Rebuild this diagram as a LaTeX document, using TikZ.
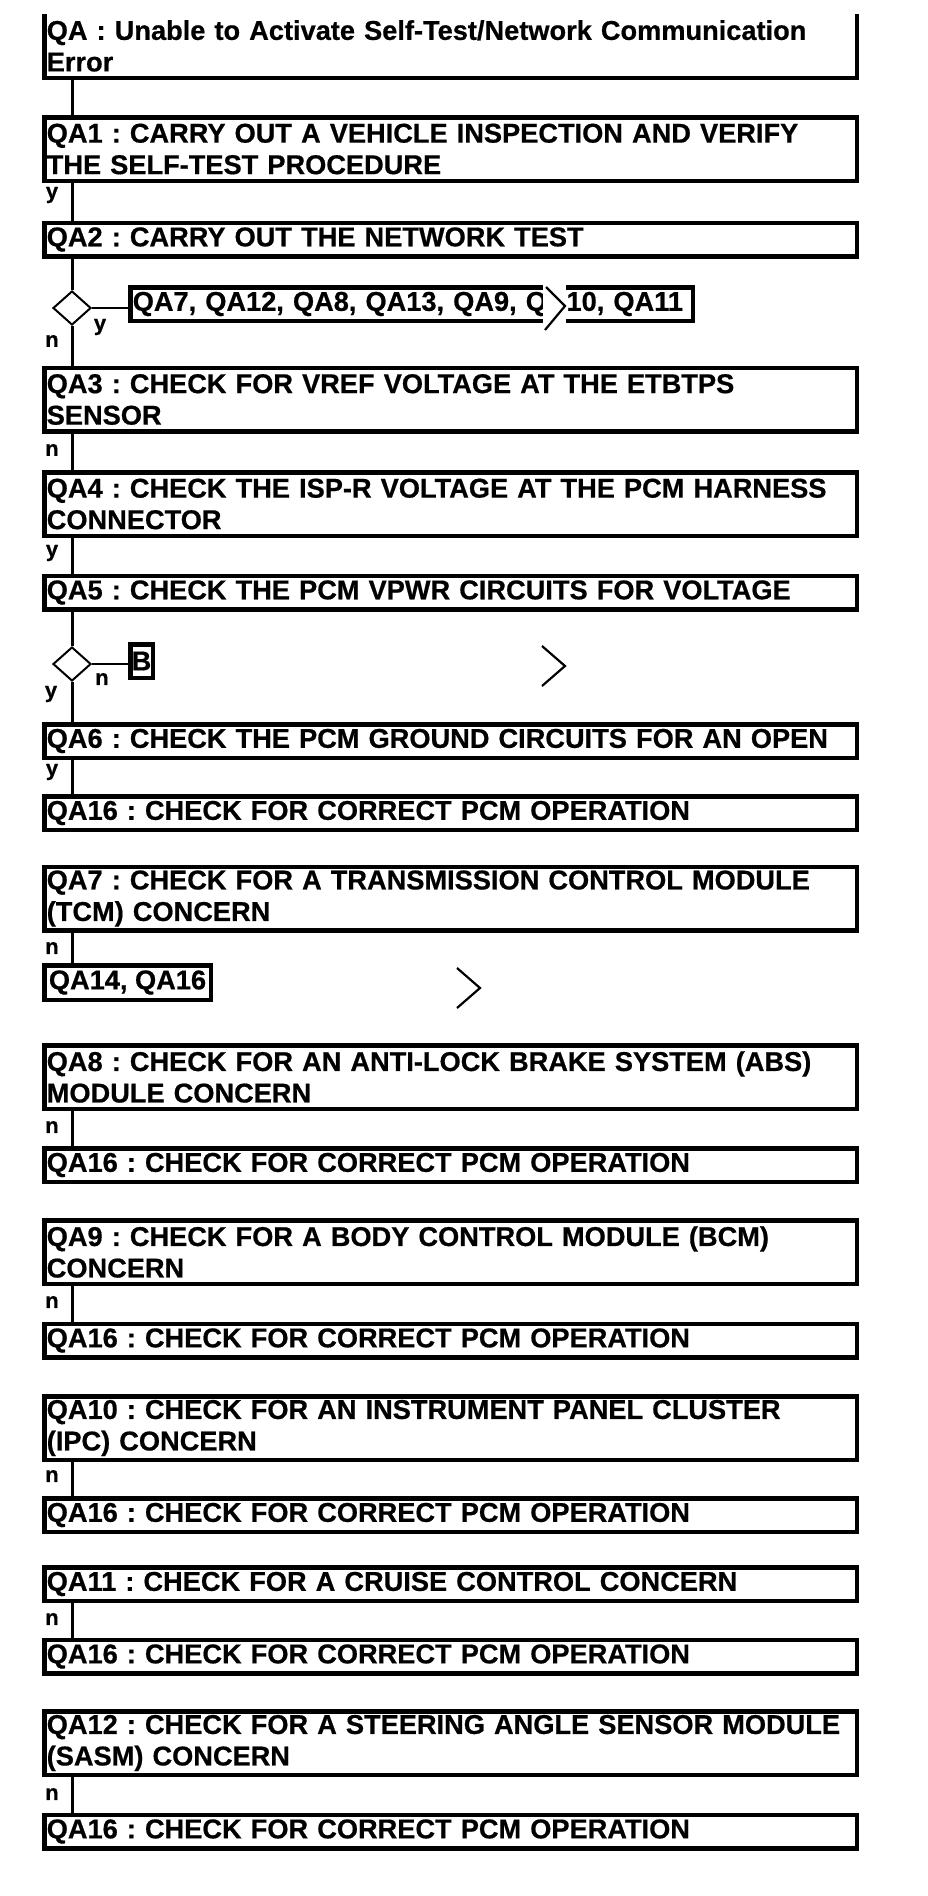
\documentclass[tikz,border=0pt]{standalone}
\usepackage{fontspec}
\setmainfont[BoldFeatures={FakeBold=0.6}]{Liberation Sans}
\usetikzlibrary{shapes.geometric}
\frenchspacing
\hyphenpenalty=10000
\exhyphenpenalty=10000
\begin{document}
\begin{tikzpicture}[x=1pt,y=-1pt,
  txt/.style={font=\bfseries\fontsize{27.2}{31.5}\selectfont\frenchspacing},
  box/.style={txt, draw, line width=4.5pt, rectangle, inner xsep=2.5pt, inner ysep=0pt,
    align=left, text width=807.5pt, minimum width=812.5pt},
  onebox/.style={box, minimum height=33.5pt},
  twobox/.style={box, minimum height=63.5pt},
  tbox/.style={txt, draw, line width=4.5pt, rectangle, inner xsep=2.5pt, inner ysep=0pt},
  conn/.style={line width=3pt},
  hconn/.style={line width=2.5pt},
  lab/.style={font=\bfseries\fontsize{22}{22}\selectfont, inner sep=0pt},
  dia/.style={draw, diamond, line width=2pt, minimum width=38pt, minimum height=34pt, inner sep=0pt},
  chev/.style={line width=2.2pt, line join=miter}
]
\useasboundingbox (0,0) rectangle (928,1896);
\coordinate (sp) at (72,0);

% title
\node[box, draw=none, outer sep=0pt, minimum height=63.75pt] (qa) at (450.5,45.9)
  {QA : Unable to Activate Self-Test/Network Communication\\Error};
\draw[line width=4.5pt, line join=miter] (qa.north west) -- (qa.south west) -- (qa.south east) -- (qa.north east);

\node[twobox] (qa1) at (450.5,149) {QA1 : CARRY OUT A VEHICLE INSPECTION AND VERIFY\\THE SELF-TEST PROCEDURE};
\node[onebox] (qa2) at (450.5,239.5) {QA2 : CARRY OUT THE NETWORK TEST};
\node[dia] (d1) at (72,308) {};
\node[tbox, align=left, text width=557.5pt, minimum height=33.5pt] (list) at (411.5,304) {QA7, QA12, QA8, QA13, QA9, QA10, QA11};
\node[twobox] (qa3) at (450.5,399.5) {QA3 : CHECK FOR VREF VOLTAGE AT THE ETBTPS\\SENSOR};
\node[twobox] (qa4) at (450.5,504) {QA4 : CHECK THE ISP-R VOLTAGE AT THE PCM HARNESS\\CONNECTOR};
\node[onebox] (qa5) at (450.5,592.5) {QA5 : CHECK THE PCM VPWR CIRCUITS FOR VOLTAGE};
\node[dia] (d2) at (72,664) {};
\node[tbox, inner xsep=0pt, minimum width=22.5pt, minimum height=33.5pt] (bb) at (141.5,661) {B};
\node[onebox] (qa6) at (450.5,741) {QA6 : CHECK THE PCM GROUND CIRCUITS FOR AN OPEN};
\node[onebox] (q16a) at (450.5,813) {QA16 : CHECK FOR CORRECT PCM OPERATION};

\node[twobox] (qa7) at (450.5,898.5) {QA7 : CHECK FOR A TRANSMISSION CONTROL MODULE\\(TCM) CONCERN};
\node[tbox, minimum width=166.5pt, minimum height=34.5pt] (q1416) at (127.5,982.5) {QA14, QA16};

\node[twobox] (qa8) at (450.5,1077) {QA8 : CHECK FOR AN ANTI-LOCK BRAKE SYSTEM (ABS)\\MODULE CONCERN};
\node[onebox] (q16b) at (450.5,1165) {QA16 : CHECK FOR CORRECT PCM OPERATION};
\node[twobox] (qa9) at (450.5,1252) {QA9 : CHECK FOR A BODY CONTROL MODULE (BCM)\\CONCERN};
\node[onebox] (q16c) at (450.5,1340.5) {QA16 : CHECK FOR CORRECT PCM OPERATION};
\node[twobox] (qa10) at (450.5,1428) {QA10 : CHECK FOR AN INSTRUMENT PANEL CLUSTER\\(IPC) CONCERN};
\node[onebox] (q16d) at (450.5,1515) {QA16 : CHECK FOR CORRECT PCM OPERATION};
\node[onebox] (qa11) at (450.5,1584) {QA11 : CHECK FOR A CRUISE CONTROL CONCERN};
\node[onebox] (q16e) at (450.5,1656.5) {QA16 : CHECK FOR CORRECT PCM OPERATION};
\node[twobox] (qa12) at (450.5,1743) {\mbox{QA12 : CHECK FOR A STEERING ANGLE SENSOR MODULE}\\(SASM) CONCERN};
\node[onebox] (q16f) at (450.5,1831.5) {QA16 : CHECK FOR CORRECT PCM OPERATION};

% connectors
\draw[conn] (qa.south -| sp) -- (qa1.north -| sp);
\draw[conn] (qa1.south -| sp) -- (qa2.north -| sp);
\draw[conn] (qa2.south -| sp) -- (d1.north);
\draw[hconn] (d1.east) -- (d1.east -| list.west);
\draw[conn] (d1.south) -- (qa3.north -| sp);
\draw[conn] (qa3.south -| sp) -- (qa4.north -| sp);
\draw[conn] (qa4.south -| sp) -- (qa5.north -| sp);
\draw[conn] (qa5.south -| sp) -- (d2.north);
\draw[hconn] (d2.east) -- (d2.east -| bb.west);
\draw[conn] (d2.south) -- (qa6.north -| sp);
\draw[conn] (qa6.south -| sp) -- (q16a.north -| sp);
\draw[conn] (qa7.south -| sp) -- (q1416.north -| sp);
\draw[conn] (qa8.south -| sp) -- (q16b.north -| sp);
\draw[conn] (qa9.south -| sp) -- (q16c.north -| sp);
\draw[conn] (qa10.south -| sp) -- (q16d.north -| sp);
\draw[conn] (qa11.south -| sp) -- (q16e.north -| sp);
\draw[conn] (qa12.south -| sp) -- (q16f.north -| sp);

% labels
\node[lab] (l1) at (52,195) {y};
\node[lab] (l2) at (100,327) {y};
\node[lab] (l3) at (52,341) {n};
\node[lab] (l4) at (52,450) {n};
\node[lab] (l5) at (52,553) {y};
\node[lab] (l6) at (102,679) {n};
\node[lab] (l7) at (51,694) {y};
\node[lab] (l8) at (52,772) {y};
\node[lab] (l9) at (52,948) {n};
\node[lab] (l10) at (52,1127) {n};
\node[lab] (l11) at (52,1302) {n};
\node[lab] (l12) at (52,1476) {n};
\node[lab] (l13) at (52,1619) {n};
\node[lab] (l14) at (52,1794) {n};

% chevrons
\fill[white] (543,282) rectangle (566,334);
\draw[chev] (546,287) -- (565,306) -- (545,330);
\draw[chev] (542,646) -- (565,666) -- (542,686);
\draw[chev] (457,968) -- (480,988) -- (457,1008);
\end{tikzpicture}
\end{document}
